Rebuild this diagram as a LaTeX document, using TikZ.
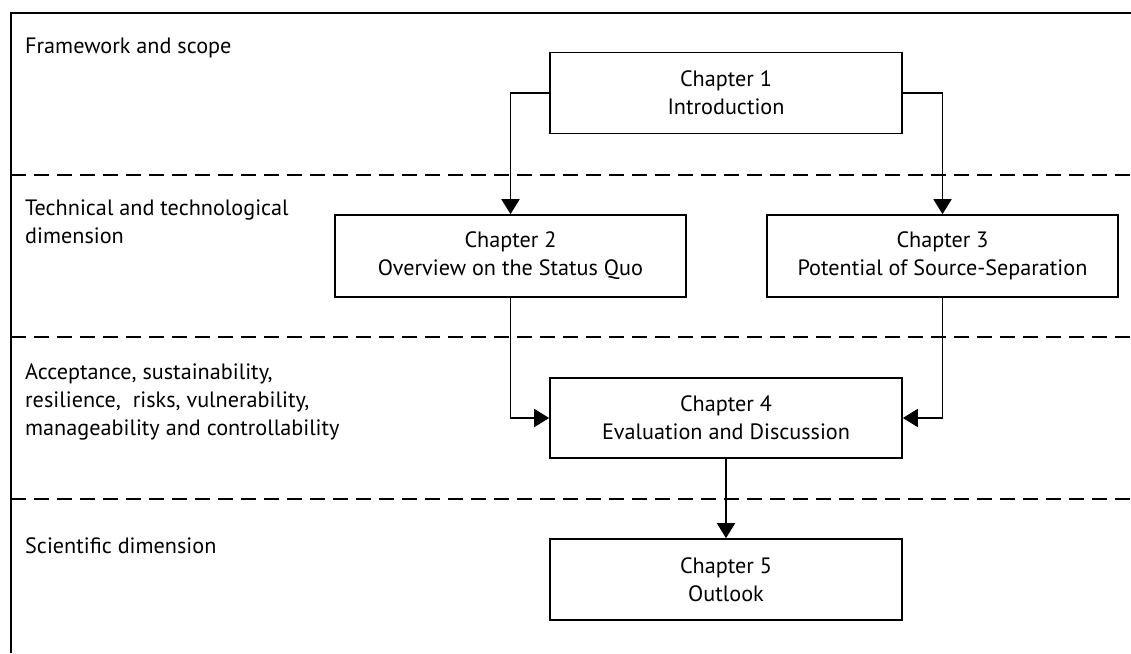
\documentclass[tikz,border=0pt]{standalone}
\usepackage{fontspec}
\setmainfont{PT Sans}
\usetikzlibrary{arrows.meta}
\begin{document}
\begin{tikzpicture}[x=1pt,y=-1pt,
  every node/.style={font=\fontsize{22.2}{28}\selectfont},
  chapbox/.style={draw,line width=1.7pt,minimum width=352pt,minimum height=81pt,align=center,inner sep=0pt},
  lbl/.style={anchor=base west,align=left,inner sep=0pt},
  frame/.style={line width=1.7pt},
  sep/.style={line width=1.7pt,dash pattern=on 15pt off 8pt},
  arr/.style={line width=1.8pt,-{Triangle[length=15pt,width=18pt]}}]
\useasboundingbox (0,0) rectangle (1131,653);
\draw[frame] (11,653) -- (11,13) -- (1131,13);
\draw[sep] (11,175) -- (1131,175);
\draw[sep] (11,337) -- (1131,337);
\draw[sep] (11,499) -- (1131,499);
\node[lbl] (l1) at (25,53) {Framework and scope};
\node[lbl] (l2) at (25,243) {Technical and technological\\dimension};
\node[lbl] (l3) at (25,435) {Acceptance, sustainability,\\resilience,\ \ risks, vulnerability,\\manageability and controllability};
\node[lbl] (l4) at (25,553) {Scientific dimension};
\node[chapbox] (ch1) at (726,93) {Chapter 1\\Introduction};
\node[chapbox,minimum width=351pt,minimum height=82pt] (ch2) at (510.5,256) {Chapter 2\\Overview on the Status Quo};
\node[chapbox,minimum width=351pt,minimum height=82pt] (ch3) at (942.5,256) {Chapter 3\\Potential of Source-Separation};
\node[chapbox,minimum height=80pt] (ch4) at (726,418) {Chapter 4\\Evaluation and Discussion};
\node[chapbox] (ch5) at (726,579.5) {Chapter 5\\Outlook};
\draw[arr] (ch1.west) -| (ch2.north);
\draw[arr] (ch1.east) -| (ch3.north);
\draw[arr] (ch2.south) |- (ch4.west);
\draw[arr] (ch3.south) |- (ch4.east);
\draw[arr] (ch4.south) -- (ch5.north);
\end{tikzpicture}
\end{document}
